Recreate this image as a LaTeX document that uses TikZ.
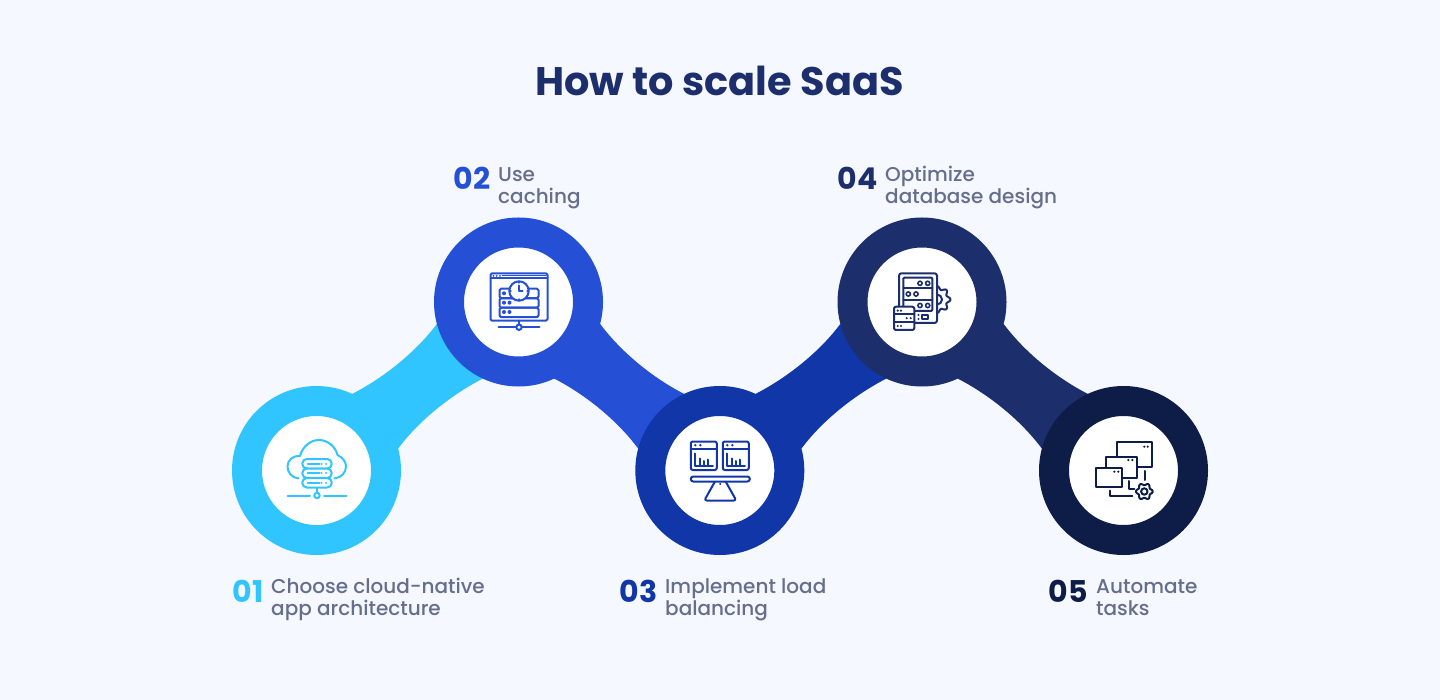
\documentclass[tikz,border=0pt]{standalone}
\usepackage{fontspec}
\setmainfont{Poppins}
\newfontfamily\medfont{Poppins Medium}
\usepackage{tikz}
\usetikzlibrary{backgrounds, calc}
\definecolor{PageBg}{HTML}{F5F8FF}
\definecolor{StepCyan}{HTML}{31C5FF}
\definecolor{StepBlue}{HTML}{2550D6}
\definecolor{StepRoyal}{HTML}{1136A8}
\definecolor{StepNavy}{HTML}{1C2E6B}
\definecolor{StepInk}{HTML}{0E1C48}
\definecolor{LabelGray}{HTML}{666E8C}
\tikzset{
  x=1pt, y=-1pt,
  stepring/.style={circle, draw=#1, fill=white, line width=30pt, minimum size=139pt, inner sep=0pt},
  titletext/.style={font=\fontsize{39.8}{44}\bfseries\selectfont, text=StepNavy, inner sep=0pt},
  numtext/.style={font=\fontsize{30}{34}\bfseries\selectfont, text=#1, inner sep=0pt, anchor=base west},
  desctext/.style={font=\fontsize{20}{22}\medfont\selectfont, text=LabelGray, inner sep=0pt, anchor=base west, align=left},
  iconline/.style={draw=#1, line width=2pt, line cap=round, line join=round},
  icondot/.style={fill=#1, draw=none}
}
% filled bands between two rings, narrow in the middle
\newcommand{\uplink}[3]{\fill[#3] (#1.65) .. controls +(33,-17) and +(-20,27) .. (#2.195) -- (#2.245) .. controls +(-33,17) and +(20,-27) .. (#1.15) -- cycle;}
\newcommand{\downlink}[3]{\fill[#3] (#1.-15) .. controls +(20,27) and +(-33,-17) .. (#2.115) -- (#2.165) .. controls +(-20,-27) and +(33,17) .. (#1.-65) -- cycle;}
% small cog outline, radius #1 with #2 teeth
\newcommand{\cogpath}[2]{plot[domain=0:360, samples=121, smooth] ({(#1+0.14*#1*cos(#2*\x))*cos(\x)},{(#1+0.14*#1*cos(#2*\x))*sin(\x)})}
\begin{document}
\begin{tikzpicture}
  \useasboundingbox (0,0) rectangle (1440,700);

  \node[titletext, anchor=base] (title) at (719.5,96) {How to scale SaaS};

  \node[stepring=StepCyan] (cloud) at (316.5,470.5) {};
  \node[stepring=StepBlue] (cache) at (518.5,302) {};
  \node[stepring=StepRoyal] (balance) at (719.8,470.5) {};
  \node[stepring=StepNavy] (database) at (922,302) {};
  \node[stepring=StepInk] (automate) at (1123.5,470.5) {};

  \begin{scope}[on background layer]
    \fill[PageBg] (0,0) rectangle (1440,700);
    \uplink{cloud}{cache}{StepCyan}
    \downlink{cache}{balance}{StepBlue}
    \uplink{balance}{database}{StepRoyal}
    \downlink{database}{automate}{StepNavy}
  \end{scope}

  % labels
  \node[numtext=StepCyan] (numA) at (232.5,602) {01};
  \node[desctext] (descA) at (271,615) {Choose cloud-native\\app architecture};
  \node[numtext=StepBlue] (numB) at (453.5,190) {02};
  \node[desctext] (descB) at (498,203.7) {Use\\caching};
  \node[numtext=StepRoyal] (numC) at (619.5,602) {03};
  \node[desctext] (descC) at (665,615) {Implement load\\balancing};
  \node[numtext=StepNavy] (numD) at (837.5,190) {04};
  \node[desctext] (descD) at (885,203.7) {Optimize\\database design};
  \node[numtext=StepInk] (numE) at (1048.5,602) {05};
  \node[desctext] (descE) at (1096,615) {Automate\\tasks};

  % cloud with server stack
  \begin{scope}[shift={(cloud.center)}, every path/.append style={iconline=StepCyan}]
    \draw (-18,8) .. controls (-25,7) and (-29,2) .. (-29,-4) .. controls (-29,-10) and (-24,-15) .. (-16.5,-14.5)
      .. controls (-14,-24) and (-6,-30.5) .. (2.5,-30.5) .. controls (11,-30.5) and (19,-24) .. (21,-15.5)
      .. controls (26,-13) and (29.5,-9) .. (29.5,-4) .. controls (29.5,2) and (25,7) .. (18,8);
    \foreach \y in {-11.5,-2,7.5} {
      \draw[fill=white, rounded corners=4.5pt] (-14.2,\y) rectangle (15.2,\y+9.5);
      \draw (-9,\y+4.75) -- (3,\y+4.75);
      \draw[line width=2.2pt] (5,\y+4.75) -- (5.1,\y+4.75) (9.5,\y+4.75) -- (9.6,\y+4.75);
    }
    \draw (0.5,17) -- (0.5,22.3);
    \draw (0.5,25) circle (2.7);
    \draw (-29,25) -- (-6.5,25) (7.5,25) -- (30,25);
  \end{scope}

  % browser window with servers and clock
  \begin{scope}[shift={(cache.center)}, every path/.append style={iconline=StepBlue}]
    \draw[rounded corners=1.5pt] (-28,-28.7) rectangle (29,18.7);
    \draw (-28,-23.5) -- (29,-23.5);
    \draw[line width=1.4pt] (-16,-26.3) -- (27.5,-26.3);
    \foreach \x in {-25,-21.8,-18.5} \fill[icondot=StepBlue] (\x,-26.2) circle (1);
    \foreach \y in {-13.3,-3.7,5.7} \draw[rounded corners=1.5pt] (-19,\y) rectangle (20,\y+9.4);
    \fill[icondot=StepBlue] (-14.5,-8.7) circle (2) (-14.5,0.7) circle (2) (-9,0.7) circle (2) (-14.5,10) circle (2) (-9,10) circle (2);
    \draw[fill=white] (0.5,-11) circle (9.7);
    \draw (0.5,-16.5) -- (0.5,-11) -- (4,-11);
    \draw[line width=1.3pt] (0.5,-20.7) -- (0.5,-19) (0.5,-3) -- (0.5,-1.3) (-9.2,-11) -- (-7.5,-11) (8.5,-11) -- (10.2,-11);
    \draw (0.5,18.7) -- (0.5,22.7);
    \draw (-20,25.2) -- (-2.3,25.2) (3.3,25.2) -- (21,25.2);
    \draw (0.5,25.2) circle (2.7);
  \end{scope}

  % two chart windows on a balance
  \begin{scope}[shift={(balance.center)}, every path/.append style={iconline=StepRoyal}]
    \foreach \dx in {0,32} {
      \draw[rounded corners=2pt] (-29+\dx,-29) rectangle (-3+\dx,-0.5);
      \draw (-29+\dx,-22) -- (-3+\dx,-22);
      \fill[icondot=StepRoyal] (-24.5+\dx,-25.3) circle (1.3) (-19.5+\dx,-25.3) circle (1.3);
      \draw (-24.5+\dx,-17) -- (-24.5+\dx,-5) -- (-7+\dx,-5);
      \draw (-19.5+\dx,-5) -- (-19.5+\dx,-12) (-15.5+\dx,-5) -- (-15.5+\dx,-9.5) (-11.5+\dx,-5) -- (-11.5+\dx,-11);
    }
    \draw[rounded corners=2.4pt] (-29,6) rectangle (30,11);
    \draw[rounded corners=2.5pt] (-5,11.3) -- (-15.5,30) -- (16.5,30) -- (6,11.3);
    \fill[icondot=StepRoyal] (0.5,13.5) circle (1.1);
  \end{scope}

  % server tower, cog and small rack
  \begin{scope}[shift={(database.center)}, every path/.append style={iconline=StepNavy}]
    \draw[shift={(15,-2.5)}] \cogpath{11.8}{8} -- cycle;
    \draw[shift={(15,-2.5)}] (0,0) circle (5);
    \draw[fill=white, rounded corners=2.5pt] (-23,-28.7) rectangle (15,21);
    \draw[rounded corners=1pt] (-18.7,-24.3) rectangle (10.3,9);
    \draw (-18.7,-13.5) -- (10.3,-13.5) (-18.7,-2.3) -- (10.3,-2.3);
    \foreach \x/\y in {-2/-18.7, 5.7/-18.7, -13.7/-8, -6/-8, -2/3.5, 5.7/3.5}
      \draw[line width=1.6pt] (\x,\y) circle (2.1);
    \draw (-0.3,12.6) rectangle (6.3,17);
    \fill[icondot=StepNavy] (-3.5,13) circle (1.1) (-3.5,17) circle (1.1);
    \draw[fill=white, rounded corners=2pt] (-28,4.7) rectangle (-7.7,28);
    \draw (-28,12.3) -- (-7.7,12.3) (-28,20) -- (-7.7,20);
    \fill[icondot=StepNavy] (-24.3,8.6) circle (1.2) (-21,8.6) circle (1.2) (-15.3,16.2) circle (1.2) (-11.3,16.2) circle (1.2) (-24.3,24) circle (1.2) (-21,24) circle (1.2);
  \end{scope}

  % stacked windows and cog
  \begin{scope}[shift={(automate.center)}, every path/.append style={iconline=StepInk}]
    \draw[line cap=butt] (-6.8,-13.8) -- (-6.8,-28.2) -- (28.8,-28.2) -- (28.8,-3.8) -- (13.2,-3.8);
    \draw[line cap=butt] (-17.2,-2.8) -- (-17.2,-13.8) -- (13.2,-13.8) -- (13.2,7.2) -- (-1.2,7.2);
    \draw[line cap=butt] (-27.8,-2.8) rectangle (-1.2,16.2);
    \fill[icondot=StepInk] (20.8,-23.8) circle (1.2) (24.2,-23.8) circle (1.2) (4.8,-10.5) circle (1.2) (8.8,-10.5) circle (1.2) (-9.2,1.2) circle (1.2) (-5.2,1.2) circle (1.2);
    \draw (21.5,0.5) -- (21.5,9.5);
    \draw (5.5,10.5) -- (5.5,18.5) -- (10.8,18.5);
    \draw (-13.8,20.2) -- (-13.8,25.2) -- (8.8,25.2);
    \draw[shift={(20.8,21)}] \cogpath{7.3}{6} -- cycle;
    \draw[shift={(20.8,21)}] (0,0) circle (3.2);
  \end{scope}
\end{tikzpicture}
\end{document}
